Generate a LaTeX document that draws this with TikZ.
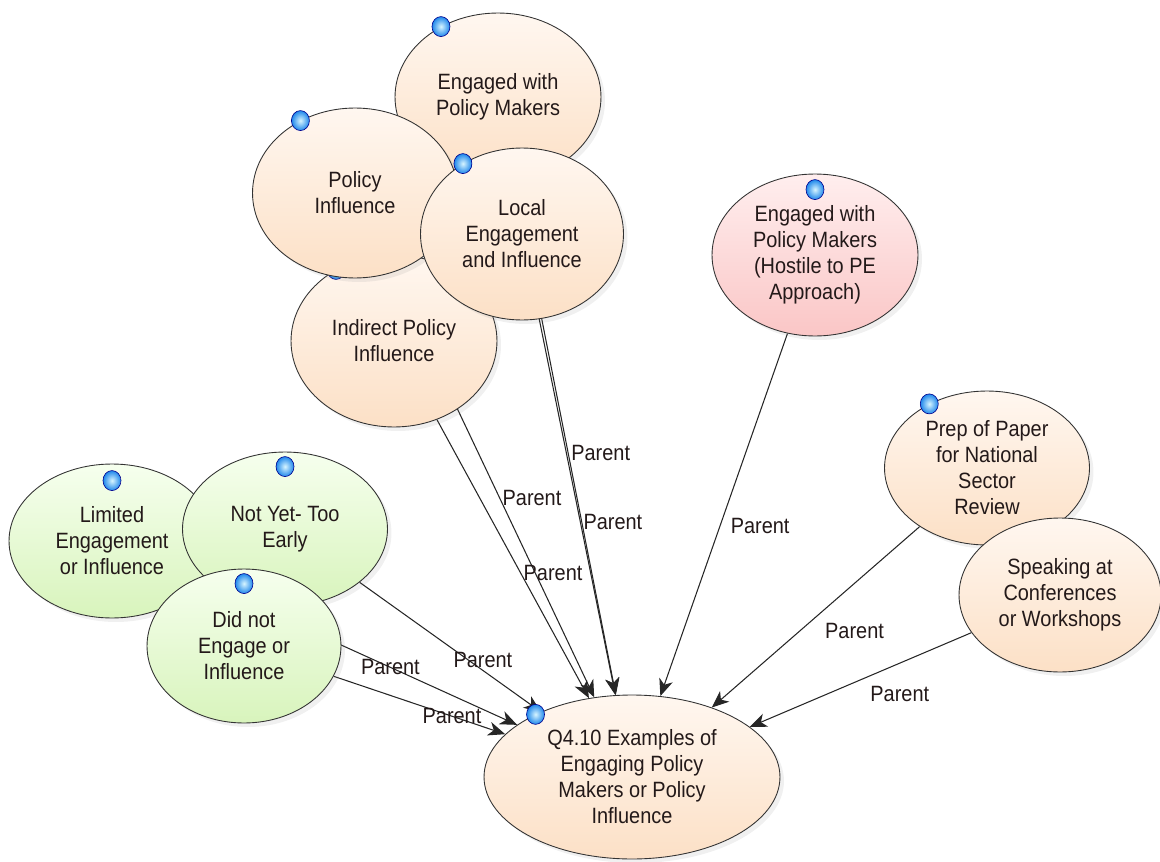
\documentclass[tikz,border=0pt]{standalone}
\usepackage{fontspec}
\setmainfont[FakeStretch=0.9]{Liberation Sans}
\usetikzlibrary{positioning, arrows.meta, shapes.geometric, shadows, backgrounds}
\definecolor{inktext}{RGB}{35, 25, 25}
\definecolor{peachA}{RGB}{255, 247, 240}
\definecolor{peachB}{RGB}{252, 224, 198}
\definecolor{greenA}{RGB}{246, 255, 238}
\definecolor{greenB}{RGB}{216, 244, 188}
\definecolor{pinkA}{RGB}{255, 238, 238}
\definecolor{pinkB}{RGB}{250, 198, 198}
\definecolor{dotblue}{RGB}{30, 135, 235}
\definecolor{dotlight}{RGB}{215, 245, 255}

\begin{document}
\begin{tikzpicture}[
    x=0.02cm, y=-0.02cm,
    idea/.style={ellipse, draw=black!80, line width=0.5pt, align=center, inner sep=0pt, text=inktext,
        font=\fontsize{12.6}{14.8}\selectfont, minimum width=4.12cm, minimum height=3.1cm,
        shading angle=45, drop shadow={shadow xshift=0.08cm, shadow yshift=-0.08cm, opacity=0.12}},
    peach/.style={idea, top color=peachA, bottom color=peachB},
    green/.style={idea, top color=greenA, bottom color=greenB},
    pink/.style={idea, top color=pinkA, bottom color=pinkB},
    dot/.style={ellipse, shading=radial, inner color=dotlight, outer color=dotblue, draw=blue!55!black, line width=0.35pt, minimum width=0.36cm, minimum height=0.4cm, inner sep=0pt},
    link/.style={-{Stealth[length=0.34cm, width=0.28cm, inset=0.1cm]}, line width=0.6pt, black!85},
    lbl/.style={font=\fontsize{12.6}{14.8}\selectfont, text=inktext, inner sep=1.5pt}
]
    \useasboundingbox (0,0) rectangle (1160,862);

    % parent node
    \node[peach, minimum width=5.92cm, minimum height=3.28cm] (q) at (632,777) {Q4.10 Examples of\\Engaging Policy\\Makers or Policy\\Influence};
    \node[dot] at (q.147) {};

    % upper cluster
    \node[peach, minimum height=3.36cm] (eng) at (498,97) {Engaged with\\Policy Makers};
    \node[dot] at (eng.129) {};
    \node[peach, minimum height=3.44cm] (ind) at (394,341) {Indirect Policy\\Influence};
    \node[dot] at (ind.129) {};
    \node[peach, minimum width=4.1cm, minimum height=3.4cm] (pol) at (355,193) {Policy\\Influence};
    \node[dot] at (pol.127) {};
    \node[peach, minimum width=4.06cm, minimum height=3.44cm] (loc) at (522,234) {Local\\Engagement\\and Influence};
    \node[dot] at (loc.130) {};

    % right side
    \node[pink, minimum height=3.24cm] (hos) at (815,255) {Engaged with\\Policy Makers\\(Hostile to PE\\Approach)};
    \node[dot] at ([yshift=-0.32cm]hos.north) {};
    \node[peach, minimum width=4.1cm, minimum height=3.08cm] (prep) at (987,468) {Prep of Paper\\for National\\Sector\\Review};
    \node[dot] at (prep.132) {};
    \node[peach, minimum width=4.04cm, minimum height=3.08cm] (spk) at (1060,595) {Speaking at\\Conferences\\or Workshops};

    % left side
    \node[green, minimum height=3.08cm] (lim) at (112,541) {Limited\\Engagement\\or Influence};
    \node[dot] at ([yshift=-0.34cm]lim.north) {};
    \node[green, minimum width=4.1cm, minimum height=3.08cm] (noty) at (285,529) {Not Yet- Too\\Early};
    \node[dot] at ([yshift=-0.3cm]noty.north) {};
    \node[green, minimum width=3.88cm, minimum height=3.08cm] (didn) at (244,646) {Did not\\Engage or\\Influence};
    \node[dot] at ([yshift=-0.3cm]didn.north) {};

    \begin{scope}[on background layer]
        \draw [link] (eng) -- node[lbl, pos=0.53, anchor=west] {Parent} (q);
        \draw [link] (loc) -- node[lbl, pos=0.54, anchor=west] {Parent} (q);
        \draw [link] (pol) -- node[lbl, pos=0.53, anchor=west] {Parent} (q);
        \draw [link] (ind) -- node[lbl, pos=0.55, anchor=west] {Parent} (q);
        \draw [link] (hos) -- node[lbl, pos=0.53, anchor=west, xshift=0.15cm] {Parent} (q);
        \draw [link] (prep) -- node[lbl, pos=0.47, anchor=north west, yshift=-0.16cm] {Parent} (q);
        \draw [link] (spk) -- node[lbl, pos=0.47, anchor=north west, yshift=-0.12cm] {Parent} (q);
        \draw [link] (noty) -- node[lbl, pos=0.68, anchor=south] {Parent} (q);
        \draw [link] (lim) -- node[lbl, pos=0.6] {Parent} (q);
        \draw [link] (didn) -- node[lbl, pos=0.69] {Parent} (q);
    \end{scope}
\end{tikzpicture}
\end{document}
